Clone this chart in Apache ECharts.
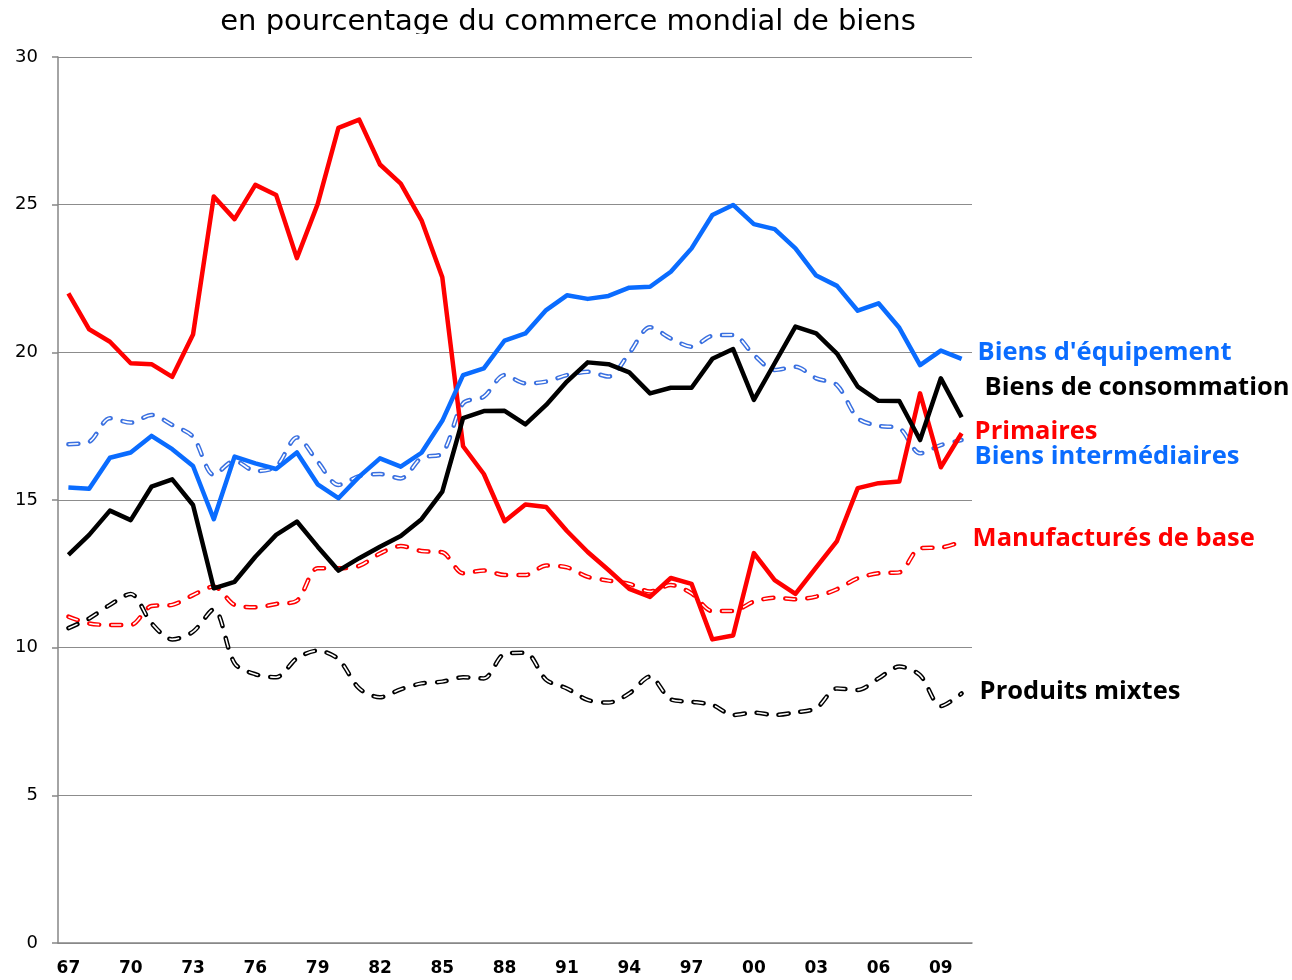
<!DOCTYPE html>
<html style="height: 100%">
<head>
  <meta charset="utf-8">
</head>
<body style="height: 100%; margin: 0">
<div id="container" style="width: 1292px; height: 980px"></div>
<script type="text/javascript" src="https://cdn.jsdelivr.net/npm/echarts@6/dist/echarts.min.js"></script>
<script type="text/javascript">
// years 1967..2010, shown as two digits
var years = ['67','68','69','70','71','72','73','74','75','76','77','78','79','80','81','82','83','84','85','86','87','88',
             '89','90','91','92','93','94','95','96','97','98','99','00','01','02','03','04','05','06','07','08','09','10'];

var primaires = [22.0,20.78,20.36,19.63,19.6,19.17,20.6,25.28,24.51,25.67,25.33,23.19,25.02,27.6,27.88,26.36,25.71,24.47,22.54,16.82,15.88,
                 14.28,14.85,14.76,13.95,13.24,12.63,11.99,11.72,12.36,12.16,10.28,10.41,13.2,12.29,11.82,12.72,13.61,15.4,15.57,15.63,18.61,16.11,17.26];
var equipement = [15.42,15.38,16.43,16.61,17.17,16.72,16.15,14.35,16.47,16.24,16.05,16.61,15.53,15.06,15.79,16.41,16.13,16.6,17.68,19.23,19.46,
                  20.4,20.64,21.43,21.93,21.81,21.91,22.19,22.22,22.73,23.52,24.65,24.99,24.34,24.17,23.52,22.6,22.25,21.41,21.66,20.83,19.57,20.06,19.78];
var consommation = [13.14,13.82,14.64,14.32,15.45,15.7,14.83,12.01,12.23,13.08,13.82,14.27,13.42,12.61,13.03,13.42,13.78,14.35,15.28,17.77,18.01,
                    18.02,17.56,18.22,19.01,19.66,19.6,19.32,18.61,18.8,18.8,19.78,20.11,18.39,19.63,20.87,20.64,19.96,18.84,18.36,18.35,17.03,19.12,17.8];
var intermediaires = [16.89,16.97,17.77,17.62,17.88,17.54,17.14,15.85,16.33,15.98,16.13,17.12,16.3,15.51,15.81,15.88,15.73,16.43,16.58,18.27,18.5,
                      19.23,18.95,19.01,19.23,19.34,19.18,19.97,20.85,20.47,20.19,20.56,20.59,19.91,19.4,19.51,19.12,18.89,17.77,17.51,17.43,16.58,16.86,17.03];
var manufactures = [11.05,10.82,10.77,10.77,11.41,11.45,11.78,12.07,11.45,11.37,11.48,11.59,12.69,12.69,12.77,13.19,13.44,13.27,13.23,12.52,12.61,
                    12.46,12.46,12.78,12.72,12.4,12.27,12.16,11.9,12.12,11.84,11.24,11.24,11.56,11.69,11.64,11.73,11.98,12.35,12.52,12.55,13.37,13.39,13.59];
var mixtes = [10.66,10.99,11.45,11.82,10.83,10.28,10.54,11.3,9.47,9.1,9.0,9.64,9.9,9.61,8.62,8.32,8.59,8.79,8.85,9.0,8.96,
              9.79,9.83,8.91,8.62,8.23,8.14,8.45,9.02,8.25,8.17,8.06,7.72,7.8,7.72,7.81,7.95,8.62,8.57,8.96,9.36,9.07,8.02,8.45];

var yTicks = [0, 5, 10, 15, 20, 25, 30];

var dom = document.getElementById("container");
var myChart = echarts.init(dom);

var labelFont = '"Open Sans", sans-serif';
var labelSize = 25.5;
var dash = [10, 12];

function solidLine(name, data, color, off) {
    return {
        name: name, type: 'line', data: data, symbol: 'none', z: 3,
        lineStyle: { color: color, width: 4.5, join: 'round' },
        endLabel: {
            show: true, formatter: '{a}', distance: 0, offset: off,
            color: color, fontFamily: labelFont, fontWeight: 'bold', fontSize: labelSize
        }
    };
}

// dashes drawn as an outline: a coloured dashed line with a thin white dashed core
function dashedLine(name, data, color, labelColor, off) {
    return [{
        name: name, type: 'line', data: data, symbol: 'none', smooth: 0.3, z: 2,
        lineStyle: { color: color, width: 4.5, type: dash, cap: 'round' },
        endLabel: {
            show: true, formatter: '{a}', distance: 0, offset: off,
            color: labelColor, fontFamily: labelFont, fontWeight: 'bold', fontSize: labelSize
        }
    }, {
        name: name + ' ', type: 'line', data: data, symbol: 'none', smooth: 0.3, z: 2,
        lineStyle: { color: '#ffffff', width: 1.6, type: dash, cap: 'butt' }
    }];
}

var series = [].concat(
    dashedLine('Manufacturés de base', manufactures, '#ff0000', '#ff0000', [11, -3]),
    dashedLine('Biens intermédiaires', intermediaires, '#3a70e0', '#0a6cff', [13, 17]),
    dashedLine('Produits mixtes', mixtes, '#000000', '#000000', [18, -2]),
    [solidLine('Primaires', primaires, '#ff0000', [13, -2]),
     solidLine("Biens d'équipement", equipement, '#0a6cff', [16, -6]),
     solidLine('Biens de consommation', consommation, '#000000', [23, -30])]
);

option = {
    animation: false,
    backgroundColor: '#ffffff',
    grid: { left: 58, right: 320, top: 57, bottom: 37, containLabel: false },
    xAxis: {
        type: 'category',
        data: years,
        boundaryGap: true,
        axisLine: { lineStyle: { color: '#868686', width: 1.5 } },
        axisTick: { interval: 2, length: 6, lineStyle: { color: '#868686', width: 1.5 } },
        axisLabel: {
            interval: 2, margin: 17, color: '#000', fontSize: 17, fontWeight: 'bold',
            fontFamily: '"DejaVu Sans", sans-serif'
        },
        splitLine: { show: false }
    },
    yAxis: {
        type: 'value',
        min: yTicks[0], max: yTicks[yTicks.length - 1], interval: 5,
        axisLine: { show: true, lineStyle: { color: '#868686', width: 1.5 } },
        axisTick: { show: true, length: 6, lineStyle: { color: '#868686', width: 1.5 } },
        axisLabel: { margin: 20, color: '#000', fontSize: 18, fontFamily: '"DejaVu Sans", sans-serif' },
        splitLine: { lineStyle: { color: '#8c8c8c', width: 1 } }
    },
    graphic: [{
        type: 'text', x: 568, y: 22, z: 10,
        style: {
            text: 'en pourcentage du commerce mondial de biens',
            fill: '#000', font: '29px "DejaVu Sans", sans-serif',
            align: 'center', verticalAlign: 'middle'
        }
    }, {
        // the title's descenders are cut off in the original
        type: 'rect', z: 11,
        shape: { x: 150, y: 34, width: 900, height: 12 },
        style: { fill: '#ffffff' }
    }],
    series: series
};
if (option && typeof option === "object") {
    myChart.setOption(option, true);
}
</script>
</body>
</html>
